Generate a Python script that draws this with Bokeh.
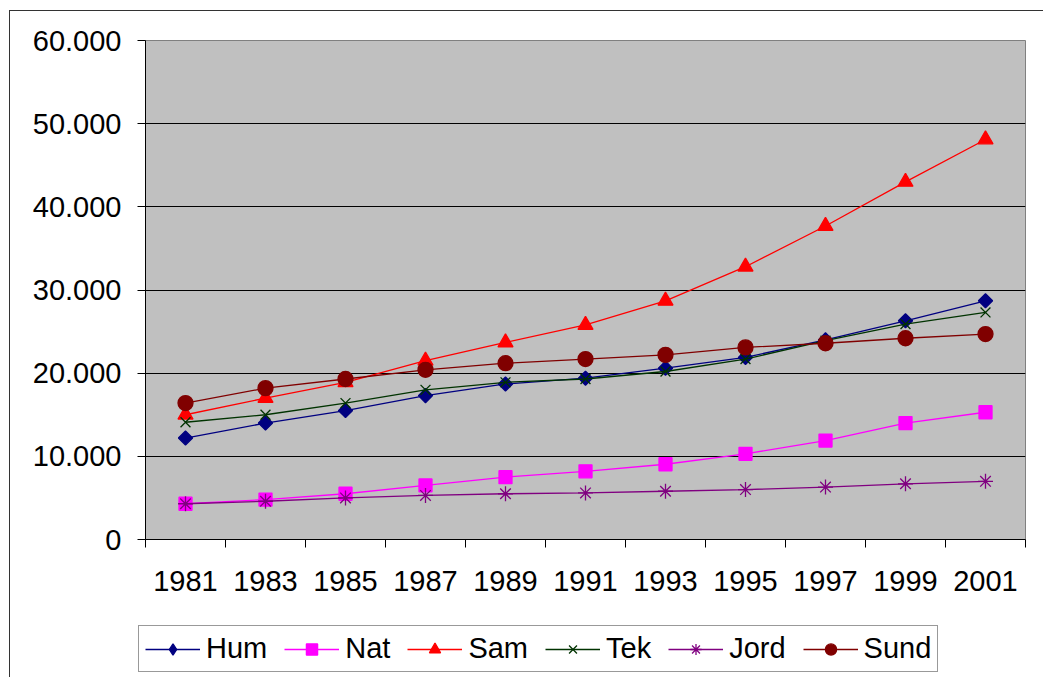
import math
from bokeh.plotting import figure
from bokeh.layouts import column
from bokeh.models import (Range1d, FixedTicker, Legend, LegendItem)
from bokeh.embed import file_html
from bokeh.resources import INLINE

years = ["1981", "1983", "1985", "1987", "1989", "1991", "1993", "1995", "1997", "1999", "2001"]
hum = [12200, 14000, 15500, 17300, 18700, 19400, 20600, 21900, 24000, 26300, 28700]
nat = [4300, 4800, 5500, 6500, 7500, 8200, 9050, 10300, 11900, 14000, 15300]
sam = [15000, 17000, 18900, 21500, 23700, 25800, 28700, 32800, 37700, 43000, 48100]
tek = [14100, 15000, 16400, 18000, 18900, 19300, 20200, 21700, 23900, 25900, 27300]
jord = [4300, 4600, 5000, 5300, 5500, 5600, 5800, 6000, 6300, 6700, 7000]
sund = [16400, 18200, 19300, 20400, 21200, 21700, 22200, 23100, 23600, 24200, 24700]
y_ticks = [0, 10000, 20000, 30000, 40000, 50000, 60000]

FONT = "Liberation Sans"
FS = "29px"
x = list(range(len(years)))

p = figure(width=1033, height=600, output_backend="svg", toolbar_location=None,
           x_range=Range1d(-0.5, len(years) - 0.5), y_range=Range1d(0, 60000),
           min_border_left=135, min_border_right=18, min_border_top=29, min_border_bottom=72)
p.background_fill_color = "#C0C0C0"
p.border_fill_color = "white"
p.outline_line_color = "#808080"
p.outline_line_width = 1

# x axis
p.xaxis.ticker = FixedTicker(ticks=x, minor_ticks=[i - 0.5 for i in range(len(years) + 1)])
p.xaxis.major_label_overrides = {i: years[i] for i in x}
p.xaxis.major_tick_out = 0
p.xaxis.major_tick_in = 0
p.xaxis.minor_tick_out = 8
p.xaxis.minor_tick_in = 0
p.xaxis.minor_tick_line_color = "black"
p.xaxis.axis_line_color = "black"
p.xaxis.major_label_text_font = FONT
p.xaxis.major_label_text_font_size = FS
p.xaxis.major_label_text_color = "black"
p.xaxis.major_label_standoff = 23

# y axis
p.yaxis.ticker = FixedTicker(ticks=y_ticks, minor_ticks=[])
p.yaxis.major_label_overrides = {t: ("0" if t == 0 else "{:,}".format(t).replace(",", ".")) for t in y_ticks}
p.yaxis.major_tick_out = 8
p.yaxis.major_tick_in = 0
p.yaxis.major_tick_line_color = "black"
p.yaxis.axis_line_color = "black"
p.yaxis.major_label_text_font = FONT
p.yaxis.major_label_text_font_size = FS
p.yaxis.major_label_text_color = "black"
p.yaxis.major_label_standoff = 16

p.xgrid.visible = False
p.ygrid.ticker = FixedTicker(ticks=y_ticks)
p.ygrid.grid_line_color = "black"
p.ygrid.grid_line_width = 1

series = [
    ("Hum", hum, "#000080", "square", 10, math.pi / 4),
    ("Nat", nat, "#FF00FF", "square", 13, 0),
    ("Sam", sam, "#FF0000", "triangle", 15, 0),
    ("Tek", tek, "#003300", "x", 14, 0),
    ("Jord", jord, "#800080", "asterisk", 15, 0),
    ("Sund", sund, "#800000", "circle", 15, 0),
]

# legend figure: same series drawn out of its visible range, only the legend shows
lp = figure(width=1033, height=66, output_backend="svg", toolbar_location=None,
            x_range=Range1d(0, 1), y_range=Range1d(-2, -1), x_axis_type=None, y_axis_type=None,
            min_border_left=114, min_border_right=0, min_border_top=0, min_border_bottom=0)
lp.frame_align = False
lp.outline_line_color = None
lp.background_fill_color = "white"
lp.border_fill_color = "white"
lp.xgrid.visible = False
lp.ygrid.visible = False

items = []
for name, vals, color, marker, size, ang in series:
    p.line(x, vals, line_color=color, line_width=1.3)
    p.scatter(x, vals, marker=marker, size=size, angle=ang,
              fill_color=color, line_color=color, line_width=1.3)
    ll = lp.line(x, vals, line_color=color, line_width=1.3)
    ls = lp.scatter(x, vals, marker=("diamond" if ang else marker), size=size,
                    fill_color=color, line_color=color, line_width=1.3)
    items.append(LegendItem(label=name, renderers=[ll, ls]))

legend = Legend(items=items, orientation="horizontal", location="top_left",
                label_text_font=FONT, label_text_font_size=FS, label_text_color="black",
                glyph_width=55, glyph_height=28, label_standoff=6, spacing=17,
                padding=6, margin=14, border_line_color="#333333", border_line_width=1,
                background_fill_color="white", background_fill_alpha=1)
lp.add_layout(legend, "center")

layout = column(p, lp, spacing=0)
layout.styles = {"border-left": "1px solid #333333", "border-top": "1px solid #333333",
                 "margin-left": "9px", "margin-top": "10px"}

open("out.html", "w").write(file_html(layout, INLINE))
